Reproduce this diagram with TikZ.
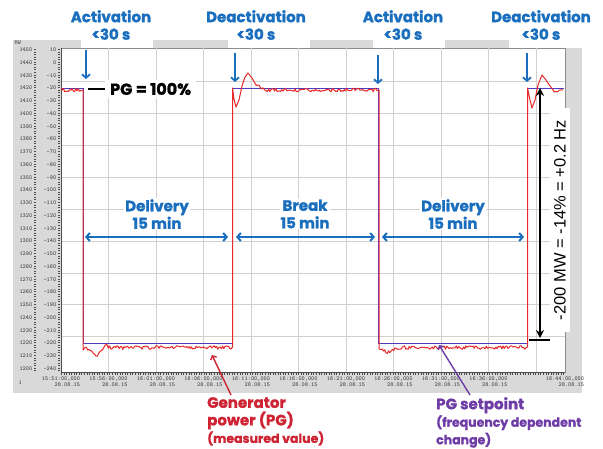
\documentclass[tikz,border=0pt]{standalone}
\usepackage{fontspec}
\usepackage{xcolor}
\usepackage{tikz}
\usetikzlibrary{arrows.meta, positioning}
\newfontfamily\lblFont{Poppins}[BoldFeatures={FakeBold=1.2}]
\newfontfamily\arialFont{Liberation Sans}
\definecolor{lblBlue}{RGB}{25,110,190}
\definecolor{sigRed}{RGB}{232,40,40}
\definecolor{genRed}{RGB}{205,35,50}
\definecolor{setBlue}{RGB}{80,60,190}
\definecolor{setPurple}{RGB}{110,60,165}
\definecolor{panelGray}{RGB}{217,217,217}
\definecolor{gridGray}{RGB}{208,208,208}
\newcommand{\mwY}[1]{(88+(1420-#1)*1.275)}

\begin{document}
\begin{tikzpicture}[
  x=1pt, y=-1pt,
  evlabel/.style={font=\lblFont\bfseries\fontsize{15}{17.5}\selectfont, text=lblBlue,
                  align=center, inner sep=1pt},
  spanlabel/.style={evlabel, fill=white},
  axlbl/.style={font=\ttfamily\fontsize{6}{6.5}\selectfont, text=black!80, inner sep=0.5pt},
  grid/.style={gridGray, line width=0.6pt},
  tickmarks/.style={black!70, line width=2pt, dash pattern=on 0.45pt off 2.1pt},
  sig/.style={sigRed, line width=1pt, line join=round},
  setp/.style={setBlue, line width=1pt},
  dnarrow/.style={-{Straight Barb[length=3.5pt, width=8pt]}, lblBlue, line width=1.8pt},
  spanarrow/.style={{Straight Barb[length=3.5pt, width=8pt]}-{Straight Barb[length=3.5pt, width=8pt]},
                    lblBlue, line width=2pt},
  ptr/.style={-{Straight Barb[length=3pt, width=6.5pt]}, line width=1.4pt}]

  \useasboundingbox (0,0) rectangle (603,448);

  \fill[panelGray] (13,40) rectangle (61,393);
  \fill[panelGray] (13,372) rectangle (582,393);
  \fill[panelGray] (565,48) rectangle (582,393);
  \fill[panelGray] (61,40) rectangle (81,48);
  \fill[panelGray] (153,40) rectangle (228,48);
  \fill[panelGray] (310,40) rectangle (373,48);
  \fill[panelGray] (445,40) rectangle (509,48);
  \filldraw[fill=white, draw=black!45, line width=0.6pt] (61,48) rectangle (565,372);

  \foreach \k in {1,...,10}
    \draw[grid] ({61+47.5*\k},48) -- ({61+47.5*\k},372);
  \foreach \v in {1425,1400,...,1225}
    \draw[grid] (61,{\mwY{\v}}) -- (565,{\mwY{\v}});

  \draw[tickmarks] (35,49) -- (35,371);
  \draw[tickmarks] (59,49) -- (59,371);
  \draw[tickmarks] (61,374) -- (565,374);
  \draw[black!70, line width=0.5pt] (61,48) -- (61,372) -- (565,372);

  \node[axlbl, anchor=north west] (unit) at (14,40) {MW};
  \node[axlbl, anchor=west] (one) at (18,383) {1};
  \foreach \v [evaluate=\v as \w using int(\v-1440)] in {1450,1440,...,1200} {
    \node[axlbl, anchor=east] (mw\v) at (33,{\mwY{\v}}) {\v};
    \node[axlbl, anchor=east] (pc\v) at (57,{\mwY{\v}}) {\w};
  }
  \foreach \t [count=\k from 0] in {15:51,15:56,16:01,16:06,16:11,16:16,16:21,16:26,16:31,16:36}
    \node[axlbl, align=right, anchor=north] (time\k) at ({61+47.5*\k},376) {\t:00,000\\28.08.15};
  \node[axlbl, align=right, anchor=north] (timeEnd) at (565,376) {16:44:00,000\\28.08.15};

  \draw[setp] (61,88) -- (83.5,88) -- (83.5,343) -- (232.5,343) -- (232.5,88) -- (378.5,88)
    -- (378.5,343) -- (527,343) -- (527,88) -- (564,88);

  \pgfmathsetseed{42}
  \draw[sig] plot[domain=61:82, samples=18] (\x,{90+1.8*rand})
    -- (83,90) -- (83,350)
    -- plot[domain=85:111, samples=20] (\x,{348+8*exp(-((\x-96)/5)*((\x-96)/5))-2.5*exp(-((\x-106)/3)*((\x-106)/3))+1.6*rand})
    -- plot[domain=112:231, samples=100] (\x,{347.5+1.8*rand})
    -- (232.5,347) -- (232.5,88) -- (234,99) -- (236,107) -- (239,100) -- (242,86)
    -- (245,77) -- (248,73) -- (252,78)
    -- plot[domain=255:264, samples=8] (\x,{84+(\x-255)*0.6+1.3*rand})
    -- plot[domain=265:378, samples=95] (\x,{90+1.8*rand})
    -- (379,90) -- (379,349)
    -- plot[domain=381:400, samples=16] (\x,{348+4*exp(-((\x-388)/5)*((\x-388)/5))+1.6*rand})
    -- plot[domain=401:526, samples=105] (\x,{347.5+1.8*rand})
    -- (527.5,347) -- (527.5,88) -- (530,100) -- (532,108) -- (535,100) -- (538,85)
    -- (542,75) -- (546,80) -- (550,86)
    -- plot[domain=553:563, samples=9] (\x,{90.5+1.6*rand});

  \node[evlabel] (act1) at (111,25) {Activation\\<30 s};
  \node[evlabel] (deact1) at (256,25) {Deactivation\\<30 s};
  \node[evlabel] (act2) at (403,25) {Activation\\<30 s};
  \node[evlabel] (deact2) at (541,25) {Deactivation\\<30 s};
  \foreach \ax/\ay in {86/50, 235/53, 378/55, 527/53}
    \draw[dnarrow] (\ax,\ay) -- (\ax,{\ay+29});

  \coordinate (pgStart) at (88,89);
  \node[font=\lblFont\bfseries\fontsize{16}{18}\selectfont, fill=white, inner xsep=5pt,
        inner ysep=3pt, right=17pt of pgStart] (pg) {PG = 100\%};
  \draw[line width=1.4pt] (pgStart) -- (pg.west);

  \node[spanlabel] (del1) at (157,214) {Delivery\\15 min};
  \node[spanlabel] (brk) at (305,214) {Break\\15 min};
  \node[spanlabel] (del2) at (453,214) {Delivery\\15 min};
  \draw[spanarrow] (85,237) -- (228,237);
  \draw[spanarrow] (236,237) -- (375,237);
  \draw[spanarrow] (382,237) -- (524,237);

  \node[font=\arialFont\fontsize{16.5}{18}\selectfont, rotate=90, fill=white,
        inner xsep=12pt, inner ysep=4pt] (mwspan) at (560,220) {-200 MW = -14\% = +0.2 Hz};
  \draw[{Stealth[length=8pt, width=8pt]}-{Stealth[length=8pt, width=8pt]}, line width=1.8pt]
    (540,88) -- (540,338);
  \draw[line width=2pt] (529,340) -- (550,340);

  \node[font=\lblFont\bfseries\fontsize{15}{17.5}\selectfont, text=genRed, align=left,
        anchor=north west, inner sep=1pt] (gen) at (206,396)
        {Generator\\power (PG)\\{\fontsize{12.5}{14}\selectfont (measured value)}};
  \node[font=\lblFont\bfseries\fontsize{15}{17.5}\selectfont, text=setPurple, align=left,
        anchor=north west, inner sep=1pt] (setpt) at (435,396)
        {PG setpoint\\{\fontsize{12.5}{14}\selectfont (frequency dependent}\\{\fontsize{12.5}{14}\selectfont change)}};
  \coordinate (genFoot) at (231,395);
  \coordinate (genTip) at (212,355);
  \coordinate (setFoot) at (470,395);
  \coordinate (setTip) at (439,345);
  \draw[ptr, genRed] (genFoot) -- (genTip);
  \draw[ptr, setPurple] (setFoot) -- (setTip);
\end{tikzpicture}
\end{document}
